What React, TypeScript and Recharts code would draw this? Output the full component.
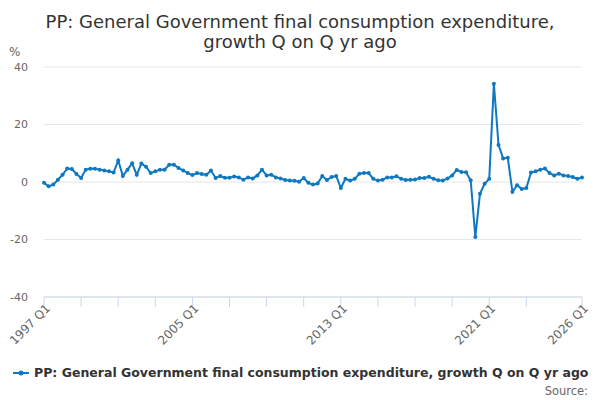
import { CartesianGrid, Line, LineChart, XAxis, YAxis } from "recharts";

const SERIES_NAME =
  "PP: General Government final consumption expenditure, growth Q on Q yr ago";
const LINE_COLOR = "#0f78c0";
const FONT = "'DejaVu Sans', Verdana, sans-serif";

const FIRST_YEAR = 1997;
const LAST_YEAR = 2026;

// % growth on the same quarter a year ago, Q1..Q4 per row
const GROWTH = [
  -0.3, -1.5, -0.9, 0.8, // 1997
  2.5, 4.7, 4.5, 2.8, // 1998
  1.4, 4.3, 4.6, 4.6, // 1999
  4.3, 4.0, 3.7, 3.3, // 2000
  7.5, 2.1, 4.3, 6.5, // 2001
  2.5, 6.4, 5.3, 3.1, // 2002
  3.7, 4.3, 4.3, 6.0, // 2003
  6.0, 4.9, 4.0, 3.1, // 2004
  2.4, 3.1, 2.8, 2.5, // 2005
  4.0, 1.4, 2.1, 1.5, // 2006
  1.5, 1.9, 1.6, 0.8, // 2007
  1.6, 1.2, 2.3, 4.3, // 2008
  2.3, 2.5, 1.6, 1.2, // 2009
  0.7, 0.5, 0.4, 0.1, // 2010
  1.4, -0.3, -0.9, -0.5, // 2011
  2.1, 0.7, 1.7, 2.1, // 2012
  -2.1, 1.1, 0.5, 1.1, // 2013
  2.9, 3.1, 3.1, 1.1, // 2014
  0.5, 0.8, 1.6, 1.6, // 2015
  2.0, 1.1, 0.7, 0.8, // 2016
  0.9, 1.4, 1.4, 1.8, // 2017
  1.1, 0.6, 0.5, 1.2, // 2018
  2.3, 4.2, 3.5, 3.4, // 2019
  0.6, -19.1, -4.1, -0.6, // 2020
  1.1, 34.2, 12.9, 8.2, // 2021
  8.4, -3.4, -1.1, -2.4, // 2022
  -2.1, 3.3, 3.7, 4.3, // 2023
  4.7, 3.1, 2.3, 2.9, // 2024
  2.3, 2.1, 1.7, 1.1, // 2025
  1.6, // 2026
];

const Y_TICKS = [-40, -20, 0, 20, 40];

const X_TICKS = [
  "1997 Q1", "1999 Q1", "2001 Q1", "2003 Q1", "2005 Q1", "2007 Q1", "2009 Q1",
  "2011 Q1", "2013 Q1", "2015 Q1", "2017 Q1", "2019 Q1", "2021 Q1", "2023 Q1",
  "2026 Q1",
];
const X_LABELS = ["1997 Q1", "2005 Q1", "2013 Q1", "2021 Q1", "2026 Q1"];

const quarters: string[] = [];
for (let y = FIRST_YEAR; y <= LAST_YEAR; y++) {
  for (let q = 1; q <= 4; q++) quarters.push(`${y} Q${q}`);
}

const data = GROWTH.map((value, i) => ({ quarter: quarters[i], value }));

function QuarterTick({ x, y, payload }: any) {
  if (!X_LABELS.includes(payload.value)) return null;
  const ax = x + 7;
  const ay = y;
  return (
    <text
      x={ax}
      y={ay}
      textAnchor="end"
      fill="#666"
      fontSize={12}
      fontFamily={FONT}
      transform={`rotate(-45, ${ax}, ${ay})`}
    >
      {payload.value}
    </text>
  );
}

export default function App() {
  return (
    <div
      style={{
        position: "absolute",
        left: 0,
        top: 0,
        width: 600,
        height: 400,
        background: "#fff",
        fontFamily: FONT,
      }}
    >
      <div
        style={{
          position: "absolute",
          top: 12,
          left: 0,
          width: 600,
          textAlign: "center",
          fontSize: 18,
          lineHeight: "20px",
          color: "#333",
        }}
      >
        PP: General Government final consumption expenditure,
        <br />
        growth Q on Q yr ago
      </div>
      <div
        style={{ position: "absolute", top: 45, left: 9, fontSize: 12, color: "#666" }}
      >
        %
      </div>

      <LineChart
        width={600}
        height={400}
        data={data}
        margin={{ top: 67, right: 18, bottom: 0, left: 0 }}
      >
        <CartesianGrid stroke="#e6e6e6" vertical={false} />
        <XAxis
          dataKey="quarter"
          ticks={X_TICKS}
          interval={0}
          height={103}
          tick={<QuarterTick />}
          tickSize={10}
          axisLine={{ stroke: "#ccd6eb" }}
          tickLine={{ stroke: "#ccd6eb" }}
        />
        <YAxis
          domain={[-40, 40]}
          ticks={Y_TICKS}
          width={44}
          axisLine={false}
          tickLine={false}
          tickSize={6}
          tickMargin={10}
          tick={{ fill: "#666", fontSize: 11, fontFamily: FONT }}
        />
        <Line
          type="linear"
          dataKey="value"
          stroke={LINE_COLOR}
          strokeWidth={2}
          dot={{ r: 2, fill: LINE_COLOR, stroke: LINE_COLOR, strokeWidth: 0 }}
          activeDot={false}
          isAnimationActive={false}
        />
      </LineChart>

      <div
        style={{
          position: "absolute",
          top: 365,
          left: 13,
          display: "flex",
          alignItems: "center",
          fontSize: 12.5,
          fontWeight: 700,
          color: "#333",
          whiteSpace: "nowrap",
        }}
      >
        <svg width={16} height={10} style={{ marginRight: 5 }}>
          <line x1={0} y1={5} x2={16} y2={5} stroke={LINE_COLOR} strokeWidth={2} />
          <circle cx={8} cy={5} r={2.5} fill={LINE_COLOR} />
        </svg>
        {SERIES_NAME}
      </div>
      <div
        style={{
          position: "absolute",
          top: 384,
          right: 12,
          fontSize: 11.5,
          color: "#666",
        }}
      >
        Source:
      </div>
    </div>
  );
}
